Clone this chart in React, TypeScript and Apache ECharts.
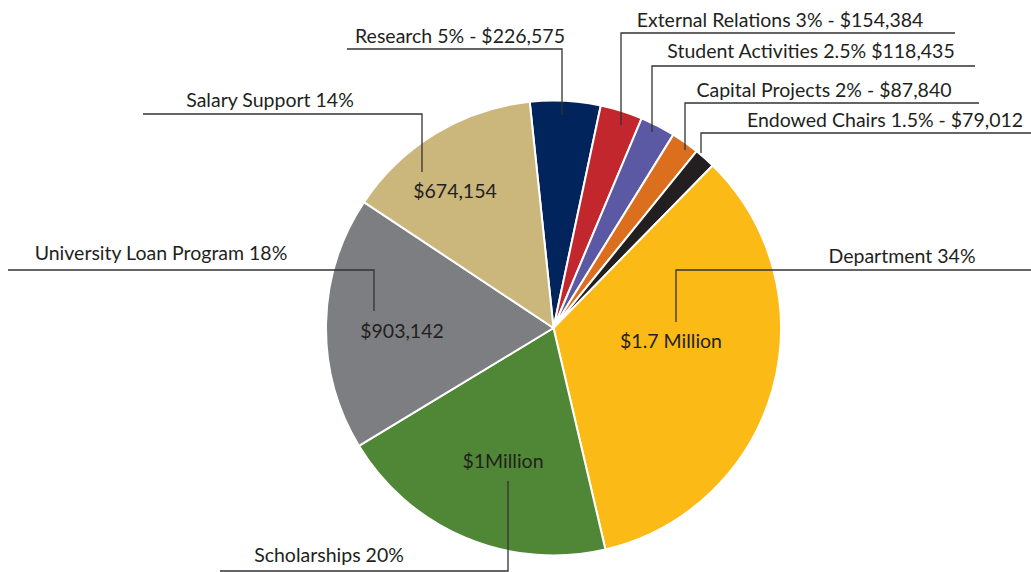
import React, { useEffect, useRef } from "react";
import * as echarts from "echarts";

// ---- data ----
const categories = [
  "Research",
  "External Relations",
  "Student Activities",
  "Capital Projects",
  "Endowed Chairs",
  "Department",
  "Scholarships",
  "University Loan Program",
  "Salary Support",
];
const shares = [5, 3, 2.5, 2, 1.5, 34, 20, 18, 14];
const outerLabels = [
  "Research 5% - $226,575",
  "External Relations 3% - $154,384",
  "Student Activities 2.5% $118,435",
  "Capital Projects 2% - $87,840",
  "Endowed Chairs 1.5% - $79,012",
  "Department 34%",
  "Scholarships 20%",
  "University Loan Program 18%",
  "Salary Support 14%",
];
const innerLabels = ["", "", "", "", "", "$1.7 Million", "$1Million", "$903,142", "$674,154"];
const colors = [
  "#00245B",
  "#C1272D",
  "#5B58A4",
  "#DB6F1E",
  "#231F20",
  "#FBBA16",
  "#4F8736",
  "#7D7E81",
  "#CBB67C",
];

// ---- annotation layout (pixels) ----
// tx,ty: text centre; ly: leader horizontal y; cx: corner x; fx: far end x; ay: anchor y
const outerLayout = [
  { tx: 460, ty: 35, ly: 49, cx: 562, fx: 347, ay: 115 },
  { tx: 780, ty: 19, ly: 33, cx: 621, fx: 955, ay: 125 },
  { tx: 811, ty: 50, ly: 66, cx: 652, fx: 975, ay: 132 },
  { tx: 824, ty: 89, ly: 103, cx: 685, fx: 979, ay: 150 },
  { tx: 885, ty: 119, ly: 133, cx: 701, fx: 1031, ay: 153 },
  { tx: 902, ty: 255, ly: 270, cx: 676, fx: 1031, ay: 322 },
  { tx: 329, ty: 554, ly: 571, cx: 508, fx: 220, ay: 481 },
  { tx: 161, ty: 252, ly: 270, cx: 374, fx: 8, ay: 311 },
  { tx: 270, ty: 99, ly: 114, cx: 422, fx: 143, ay: 172 },
];
const innerLayout = [
  null, null, null, null, null,
  { x: 671, y: 340 },
  { x: 503, y: 460 },
  { x: 402, y: 330 },
  { x: 455, y: 190 },
];

const FONT = "Lato, 'Open Sans', sans-serif";
const TEXT = "#231F20";
const FS = 19.5;

export default function App() {
  const ref = useRef<HTMLDivElement>(null);
  useEffect(() => {
    if (!ref.current) return;
    const chart = echarts.init(ref.current, undefined, { renderer: "svg" });
    const common = {
      type: "pie" as const,
      center: [553.5, 328],
      radius: 227.5,
      startAngle: 96,
      clockwise: true,
      avoidLabelOverlap: false,
      emphasis: { disabled: true },
    };
    const ghostData = categories.map((name, i) => ({ name, value: shares[i] }));
    chart.setOption({
      animation: false,
      series: [
        // slices
        {
          ...common,
          z: 2,
          itemStyle: { borderColor: "#ffffff", borderWidth: 2 },
          label: { show: false },
          labelLine: { show: false },
          data: categories.map((name, i) => ({
            name,
            value: shares[i],
            itemStyle: { color: colors[i] },
          })),
        },
        // inner value labels
        {
          ...common,
          z: 3,
          silent: true,
          itemStyle: { color: "transparent", borderWidth: 0 },
          label: {
            show: true,
            position: "inside",
            formatter: (p: any) => innerLabels[p.dataIndex],
            fontFamily: FONT,
            fontSize: FS,
            color: TEXT,
          },
          labelLine: { show: false },
          labelLayout: (params: any) => {
            const L = innerLayout[params.dataIndex];
            if (!L) return {};
            return { x: L.x, y: L.y, align: "center", verticalAlign: "middle" };
          },
          data: categories.map((name, i) => ({
            name,
            value: shares[i],
            label: { show: innerLabels[i] !== "" },
          })),
        },
        // outer labels with leader lines
        {
          ...common,
          z: 4,
          silent: true,
          itemStyle: { color: "transparent", borderWidth: 0 },
          label: {
            show: true,
            position: "outside",
            formatter: (p: any) => outerLabels[p.dataIndex],
            fontFamily: FONT,
            fontSize: FS,
            color: TEXT,
          },
          labelLine: {
            show: true,
            smooth: false,
            length: 10,
            length2: 10,
            lineStyle: { color: "#333333", width: 1.3 },
          },
          labelLayout: (params: any) => {
            const L = outerLayout[params.dataIndex];
            return {
              x: L.tx,
              y: L.ty,
              align: "center",
              verticalAlign: "middle",
              labelLinePoints: [
                [L.cx, L.ay],
                [L.cx, L.ly],
                [L.fx, L.ly],
              ],
            };
          },
          data: ghostData,
        },
      ],
    });
    return () => chart.dispose();
  }, []);
  return (
    <div
      ref={ref}
      style={{ position: "fixed", left: 0, top: 0, width: 1031, height: 572, background: "#ffffff" }}
    />
  );
}
